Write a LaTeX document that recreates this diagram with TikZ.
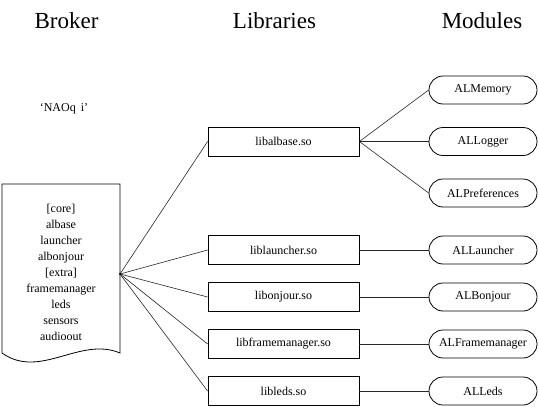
\documentclass[tikz,border=0pt]{standalone}
\usepackage{fontspec}
\setmainfont{Liberation Serif}
\begin{document}
\begin{tikzpicture}[x=1pt,y=-1pt,
  lib/.style={draw=black,line width=0.8pt,minimum width=151pt,minimum height=29pt,inner sep=0pt,font=\fontsize{12}{14}\selectfont},
  mod/.style={draw=black,line width=0.8pt,rounded corners=14pt,minimum width=108pt,minimum height=28pt,inner sep=0pt,font=\fontsize{12}{14}\selectfont},
  head/.style={anchor=base,font=\fontsize{23}{26}\selectfont},
  conn/.style={draw=black!85,line width=0.6pt}]
\useasboundingbox (0,0) rectangle (539,407);
\node[head] (hb) at (66.5,28) {Broker};
\node[head] (hl) at (274.5,28) {Libraries};
\node[head] (hm) at (482,28) {Modules};
\node[anchor=base,font=\fontsize{12}{14}\selectfont] (naoqi) at (64,111) {‘NAOq\, i’};
% document shape
\draw[line width=0.8pt] (2,184) -- (120,184) -- (120,353) .. controls (80,336) and (40,380) .. (2,353) -- cycle;
\node[align=center,font=\fontsize{12}{16}\selectfont,inner sep=0pt] (doc) at (61,272)
  {[core]\\albase\\launcher\\albonjour\\[0pt][extra]\\framemanager\\leds\\sensors\\audioout};
\coordinate (hub) at (120,274);
% libraries
\node[lib] (l1) at (283.5,141.5) {libalbase.so};
\node[lib] (l2) at (283.5,250) {liblauncher.so};
\node[lib] (l3) at (283.5,297) {libonjour.so};
\node[lib] (l4) at (283.5,344) {libframemanager.so};
\node[lib] (l5) at (283.5,391) {libleds.so};
% modules
\node[mod] (m1) at (483,90) {ALMemory};
\node[mod] (m2) at (483,141.5) {ALLogger};
\node[mod] (m3) at (483,193) {ALPreferences};
\node[mod] (m4) at (483,250) {ALLauncher};
\node[mod] (m5) at (483,297) {ALBonjour};
\node[mod] (m6) at (483,344) {ALFramemanager};
\node[mod] (m7) at (483,391) {ALLeds};
% connectors
\foreach \l in {l1,l2,l3,l4,l5} \draw[conn] (hub) -- (\l.west);
\foreach \m in {m1,m2,m3} \draw[conn] (l1.east) -- (\m.west);
\draw[conn] (l2.east) -- (m4.west);
\draw[conn] (l3.east) -- (m5.west);
\draw[conn] (l4.east) -- (m6.west);
\draw[conn] (l5.east) -- (m7.west);
\fill (hub) circle (1.2pt);
\end{tikzpicture}
\end{document}
